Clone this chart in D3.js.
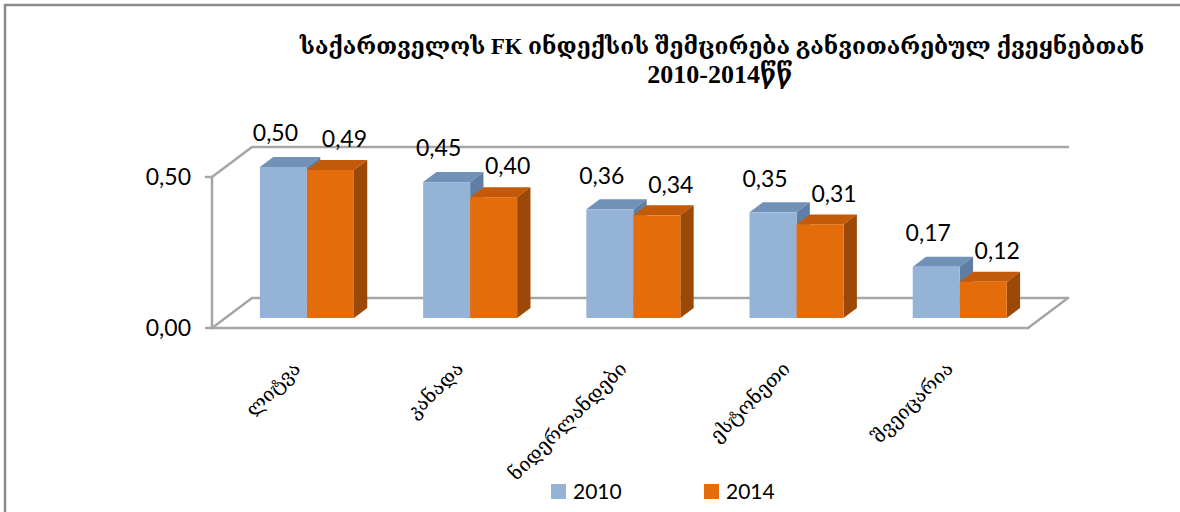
<!DOCTYPE html>
<html>
<head>
<meta charset="utf-8">
<script src="https://cdn.jsdelivr.net/npm/d3@7"></script>
<style>
html,body{margin:0;padding:0;background:#fff;}
svg{display:block;}
</style>
</head>
<body>
<svg id="chart" width="1180" height="512"></svg>
<script>
// ---- data ----
const categories = ["ლიტვა", "კანადა", "ნიდერლანდები", "ესტონეთი", "შვეიცარია"];
const seriesNames = ["2010", "2014"];
const values2010 = [0.50, 0.45, 0.36, 0.35, 0.17];
const values2014 = [0.49, 0.40, 0.34, 0.31, 0.12];
const yTicks = [0.00, 0.50];
const titleLines = ["საქართველოს FK ინდექსის შემცირება განვითარებულ ქვეყნებთან", "2010-2014წწ"];

// ---- styles ----
const frontColors = ["#95B3D7", "#E46C0A"];
const topColors   = ["#7291B7", "#C35A09"];
const sideColors  = ["#5F7EA5", "#9C4806"];
const wallColor = "#A6A6A6";
const numFont = "Lato, 'Open Sans', 'Liberation Sans', sans-serif";
const geoFont = "'DejaVu Serif', 'DejaVu Sans', serif";

const svg = d3.select("#chart");

// frame
svg.append("path").attr("d", "M5,512 L5,5 L1180,5")
  .attr("fill", "none").attr("stroke", "#8C8C8C").attr("stroke-width", 2.5);

// ---- geometry ----
const x0 = 212, x1 = 1028;      // front plane
const depthX = 40, depthY = -30; // floor depth
const x = d3.scaleBand().domain(categories).range([x0, x1]).paddingInner(0.424).paddingOuter(0.212);
const y = d3.scaleLinear().domain([0, 0.5]).range([328, 177]);
const sub = d3.scaleBand().domain(seriesNames).range([0, x.bandwidth()]);

// walls
const g = svg.append("g");
const line = (a, b) => g.append("line").attr("x1", a[0]).attr("y1", a[1]).attr("x2", b[0]).attr("y2", b[1])
  .attr("stroke", wallColor).attr("stroke-width", 2.5).attr("stroke-linecap", "round");
const yMax = y(0.5), yMin = y(0);
line([x0, yMax], [x0 + depthX, yMax + depthY]);
line([x0 + depthX, yMax + depthY], [x1 + depthX, yMax + depthY]);
line([x0, yMin], [x0 + depthX, yMin + depthY]);
line([x0 + depthX, yMin + depthY], [x1 + depthX, yMin + depthY]);
line([x1 + depthX, yMin + depthY], [x1, yMin]);
line([x0, yMin], [x1, yMin]);
line([x0, yMax], [x0, yMin]);
yTicks.forEach(t => line([x0 - 6, y(t)], [x0, y(t)]));

// y tick labels
svg.append("g").selectAll("text").data(yTicks).join("text")
  .attr("x", 191).attr("y", d => y(d)).attr("dy", "0.36em")
  .attr("text-anchor", "end").attr("font-family", numFont).attr("font-size", 23).attr("fill", "#000")
  .text(d => d3.format(".2f")(d).replace(".", ","));

// bars
const fx = depthX / 3, fy = depthY / 3; // offset of bar front inside floor
const bx = depthX / 3, by = depthY / 3; // bar depth
const allSeries = [values2010, values2014];
const bars = [];
categories.forEach((c, i) => {
  seriesNames.forEach((s, j) => {
    const left = x(c) + sub(s) + fx;
    const right = left + sub.bandwidth();
    const top = y(allSeries[j][i]) + fy;
    const bottom = y(0) + fy;
    bars.push({c, s, j, v: allSeries[j][i], left, right, top, bottom});
  });
});
const bg = svg.append("g");
bars.forEach(b => {
  const gg = bg.append("g");
  gg.append("polygon").attr("points", [[b.left, b.top], [b.left + bx, b.top + by], [b.right + bx, b.top + by], [b.right, b.top]].join(" "))
    .attr("fill", topColors[b.j]);
  gg.append("polygon").attr("points", [[b.right, b.top], [b.right + bx, b.top + by], [b.right + bx, b.bottom + by], [b.right, b.bottom]].join(" "))
    .attr("fill", sideColors[b.j]);
  gg.append("rect").attr("x", b.left).attr("y", b.top).attr("width", b.right - b.left).attr("height", b.bottom - b.top)
    .attr("fill", frontColors[b.j]);
});

// value labels
const labelShift = [-8, 14];
const labelRise = [34, 31];
svg.append("g").selectAll("text").data(bars).join("text")
  .attr("x", d => (d.left + d.right) / 2 + labelShift[d.j])
  .attr("y", d => d.top - labelRise[d.j]).attr("dy", "0.36em")
  .attr("text-anchor", "middle").attr("font-family", numFont).attr("font-size", 23).attr("fill", "#000")
  .text(d => d3.format(".2f")(d.v).replace(".", ","));

// category labels
svg.append("g").selectAll("text").data(categories).join("text")
  .attr("transform", d => `translate(${x(d) + x.bandwidth() / 2 + 8},370) rotate(-45)`)
  .attr("text-anchor", "end").attr("font-family", geoFont).attr("font-size", 19.5).attr("fill", "#000")
  .text(d => d);

// title
svg.append("g").selectAll("text").data(titleLines).join("text")
  .attr("x", (d, i) => i === 0 ? 722 : 720).attr("y", (d, i) => i === 0 ? 54 : 83)
  .attr("text-anchor", "middle").attr("font-family", "'Liberation Serif', " + geoFont)
  .attr("font-weight", "bold").attr("font-size", (d, i) => i === 0 ? 22.7 : 26).attr("fill", "#000")
  .text(d => d);

// legend
const leg = svg.append("g");
const legX = [551, 704];
seriesNames.forEach((s, j) => {
  leg.append("rect").attr("x", legX[j]).attr("y", 484).attr("width", 15).attr("height", 15).attr("fill", frontColors[j]);
  leg.append("text").attr("x", legX[j] + 22).attr("y", 491.5).attr("dy", "0.36em")
    .attr("font-family", numFont).attr("font-size", 21).attr("fill", "#000").text(s);
});
</script>
</body>
</html>
